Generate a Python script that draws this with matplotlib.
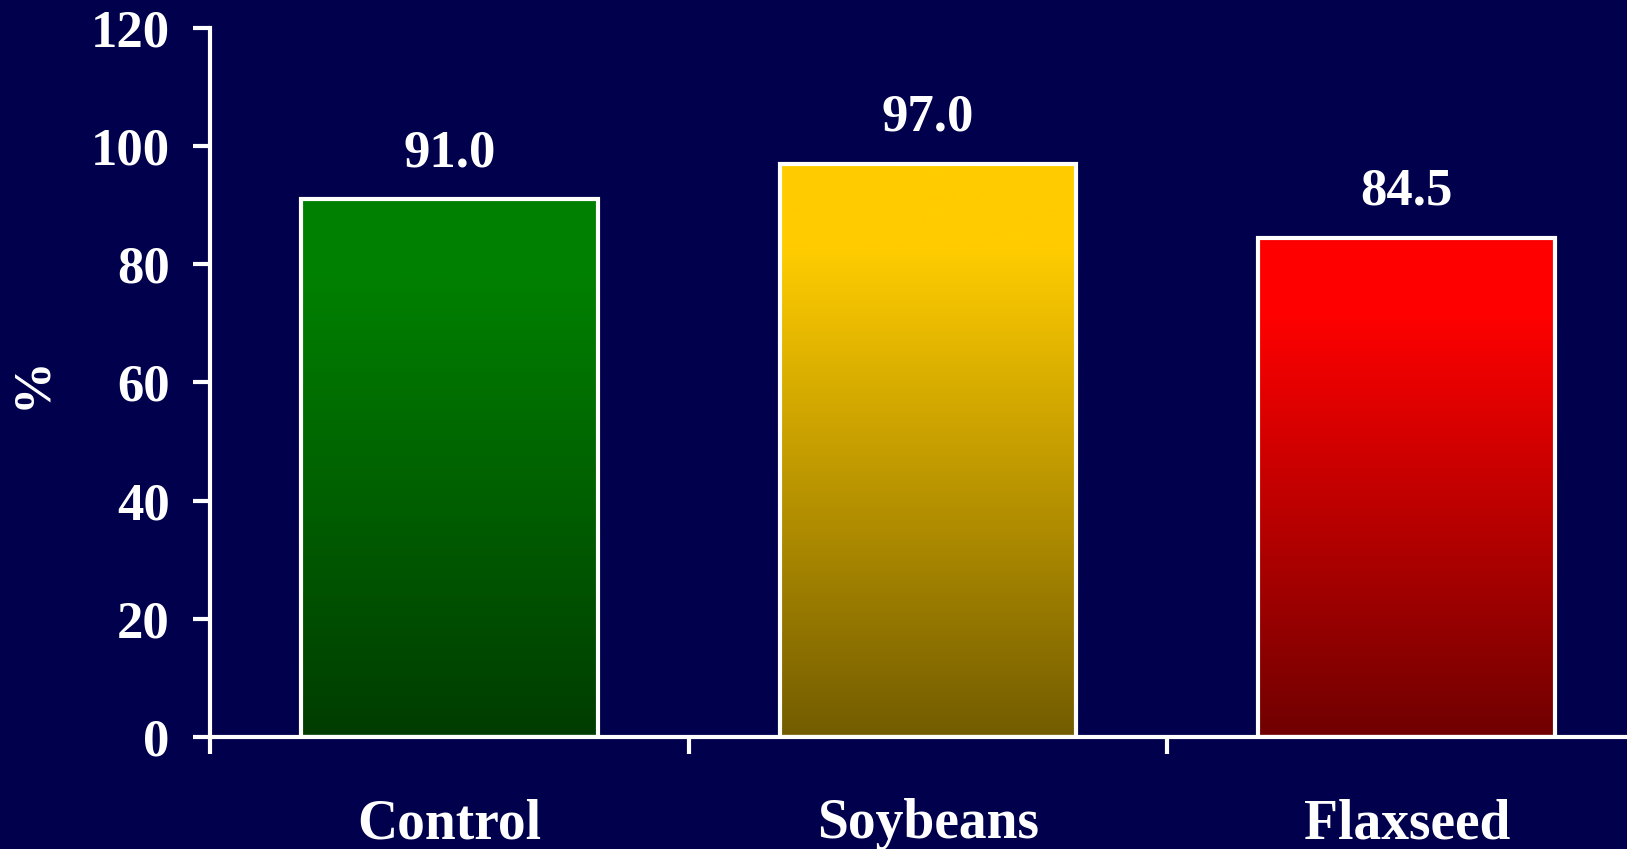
import numpy as np
import matplotlib
matplotlib.use("Agg")
import matplotlib.pyplot as plt
from matplotlib.colors import LinearSegmentedColormap

# Datos
categorias = ["Control", "Soybeans", "Flaxseed"]
valores = [91.0, 97.0, 84.5]
etiquetas = ["91.0", "97.0", "84.5"]
colores_arriba = ["#008000", "#ffcc00", "#ff0000"]
colores_abajo = ["#003c00", "#735c00", "#700000"]
ticks_y = [0, 20, 40, 60, 80, 100, 120]

FONDO = "#00004d"
BLANCO = "white"
FUENTE = ["Liberation Serif", "DejaVu Serif"]

plt.rcParams["font.family"] = FUENTE
plt.rcParams["font.weight"] = "bold"

fig = plt.figure(figsize=(16.27, 8.49), dpi=100, facecolor=FONDO)
ax = fig.add_axes([0.129, 0.132, 0.871, 0.835], facecolor=FONDO)

x = np.arange(len(categorias))
barras = ax.bar(x, valores, width=0.62, facecolor="none", edgecolor=BLANCO,
                linewidth=3.0, zorder=3)

# Degradado vertical dentro de cada barra
grad = np.linspace(0, 1, 256).reshape(-1, 1)
for barra, c_top, c_bot in zip(barras, colores_arriba, colores_abajo):
    cmap = LinearSegmentedColormap.from_list(
        "g", [(0.0, c_bot), (0.85, c_top), (1.0, c_top)])
    x0 = barra.get_x()
    x1 = x0 + barra.get_width()
    h = barra.get_height()
    ax.imshow(grad, cmap=cmap, origin="lower", aspect="auto",
              extent=(x0, x1, 0, h), zorder=2, interpolation="bicubic")

for barra, txt in zip(barras, etiquetas):
    ax.annotate(txt, (barra.get_x() + barra.get_width() / 2, barra.get_height()),
                xytext=(0, 16), textcoords="offset points", ha="center",
                va="bottom", color=BLANCO, fontsize=38, fontweight="bold")

ax.set_xlim(-0.5, 2.46)
ax.set_ylim(0, 120)
ax.set_yticks(ticks_y)
ax.set_yticklabels([str(t) for t in ticks_y])

# Etiquetas en el centro, marcas en los límites de cada categoría
ax.set_xticks(x)
ax.set_xticklabels(categorias)
ax.set_xticks([-0.5, 0.5, 1.5], minor=True)
ax.tick_params(axis="x", which="major", length=0, pad=44, labelsize=40,
               labelcolor=BLANCO)
ax.tick_params(axis="x", which="minor", length=12, width=3.0, color=BLANCO,
               direction="out")
ax.tick_params(axis="y", length=12, width=3.0, color=BLANCO, pad=17,
               labelsize=38, labelcolor=BLANCO)

for lado in ["top", "right"]:
    ax.spines[lado].set_visible(False)
for lado in ["left", "bottom"]:
    ax.spines[lado].set_color(BLANCO)
    ax.spines[lado].set_linewidth(3.0)
    ax.spines[lado].set_zorder(4)

ax.set_ylabel("%", fontsize=38, color=BLANCO, fontweight="bold")
ax.yaxis.set_label_coords(-0.1256, 0.5)
ax.yaxis.label.set_va("center")

fig.savefig("out.png", dpi=100, facecolor=FONDO)
